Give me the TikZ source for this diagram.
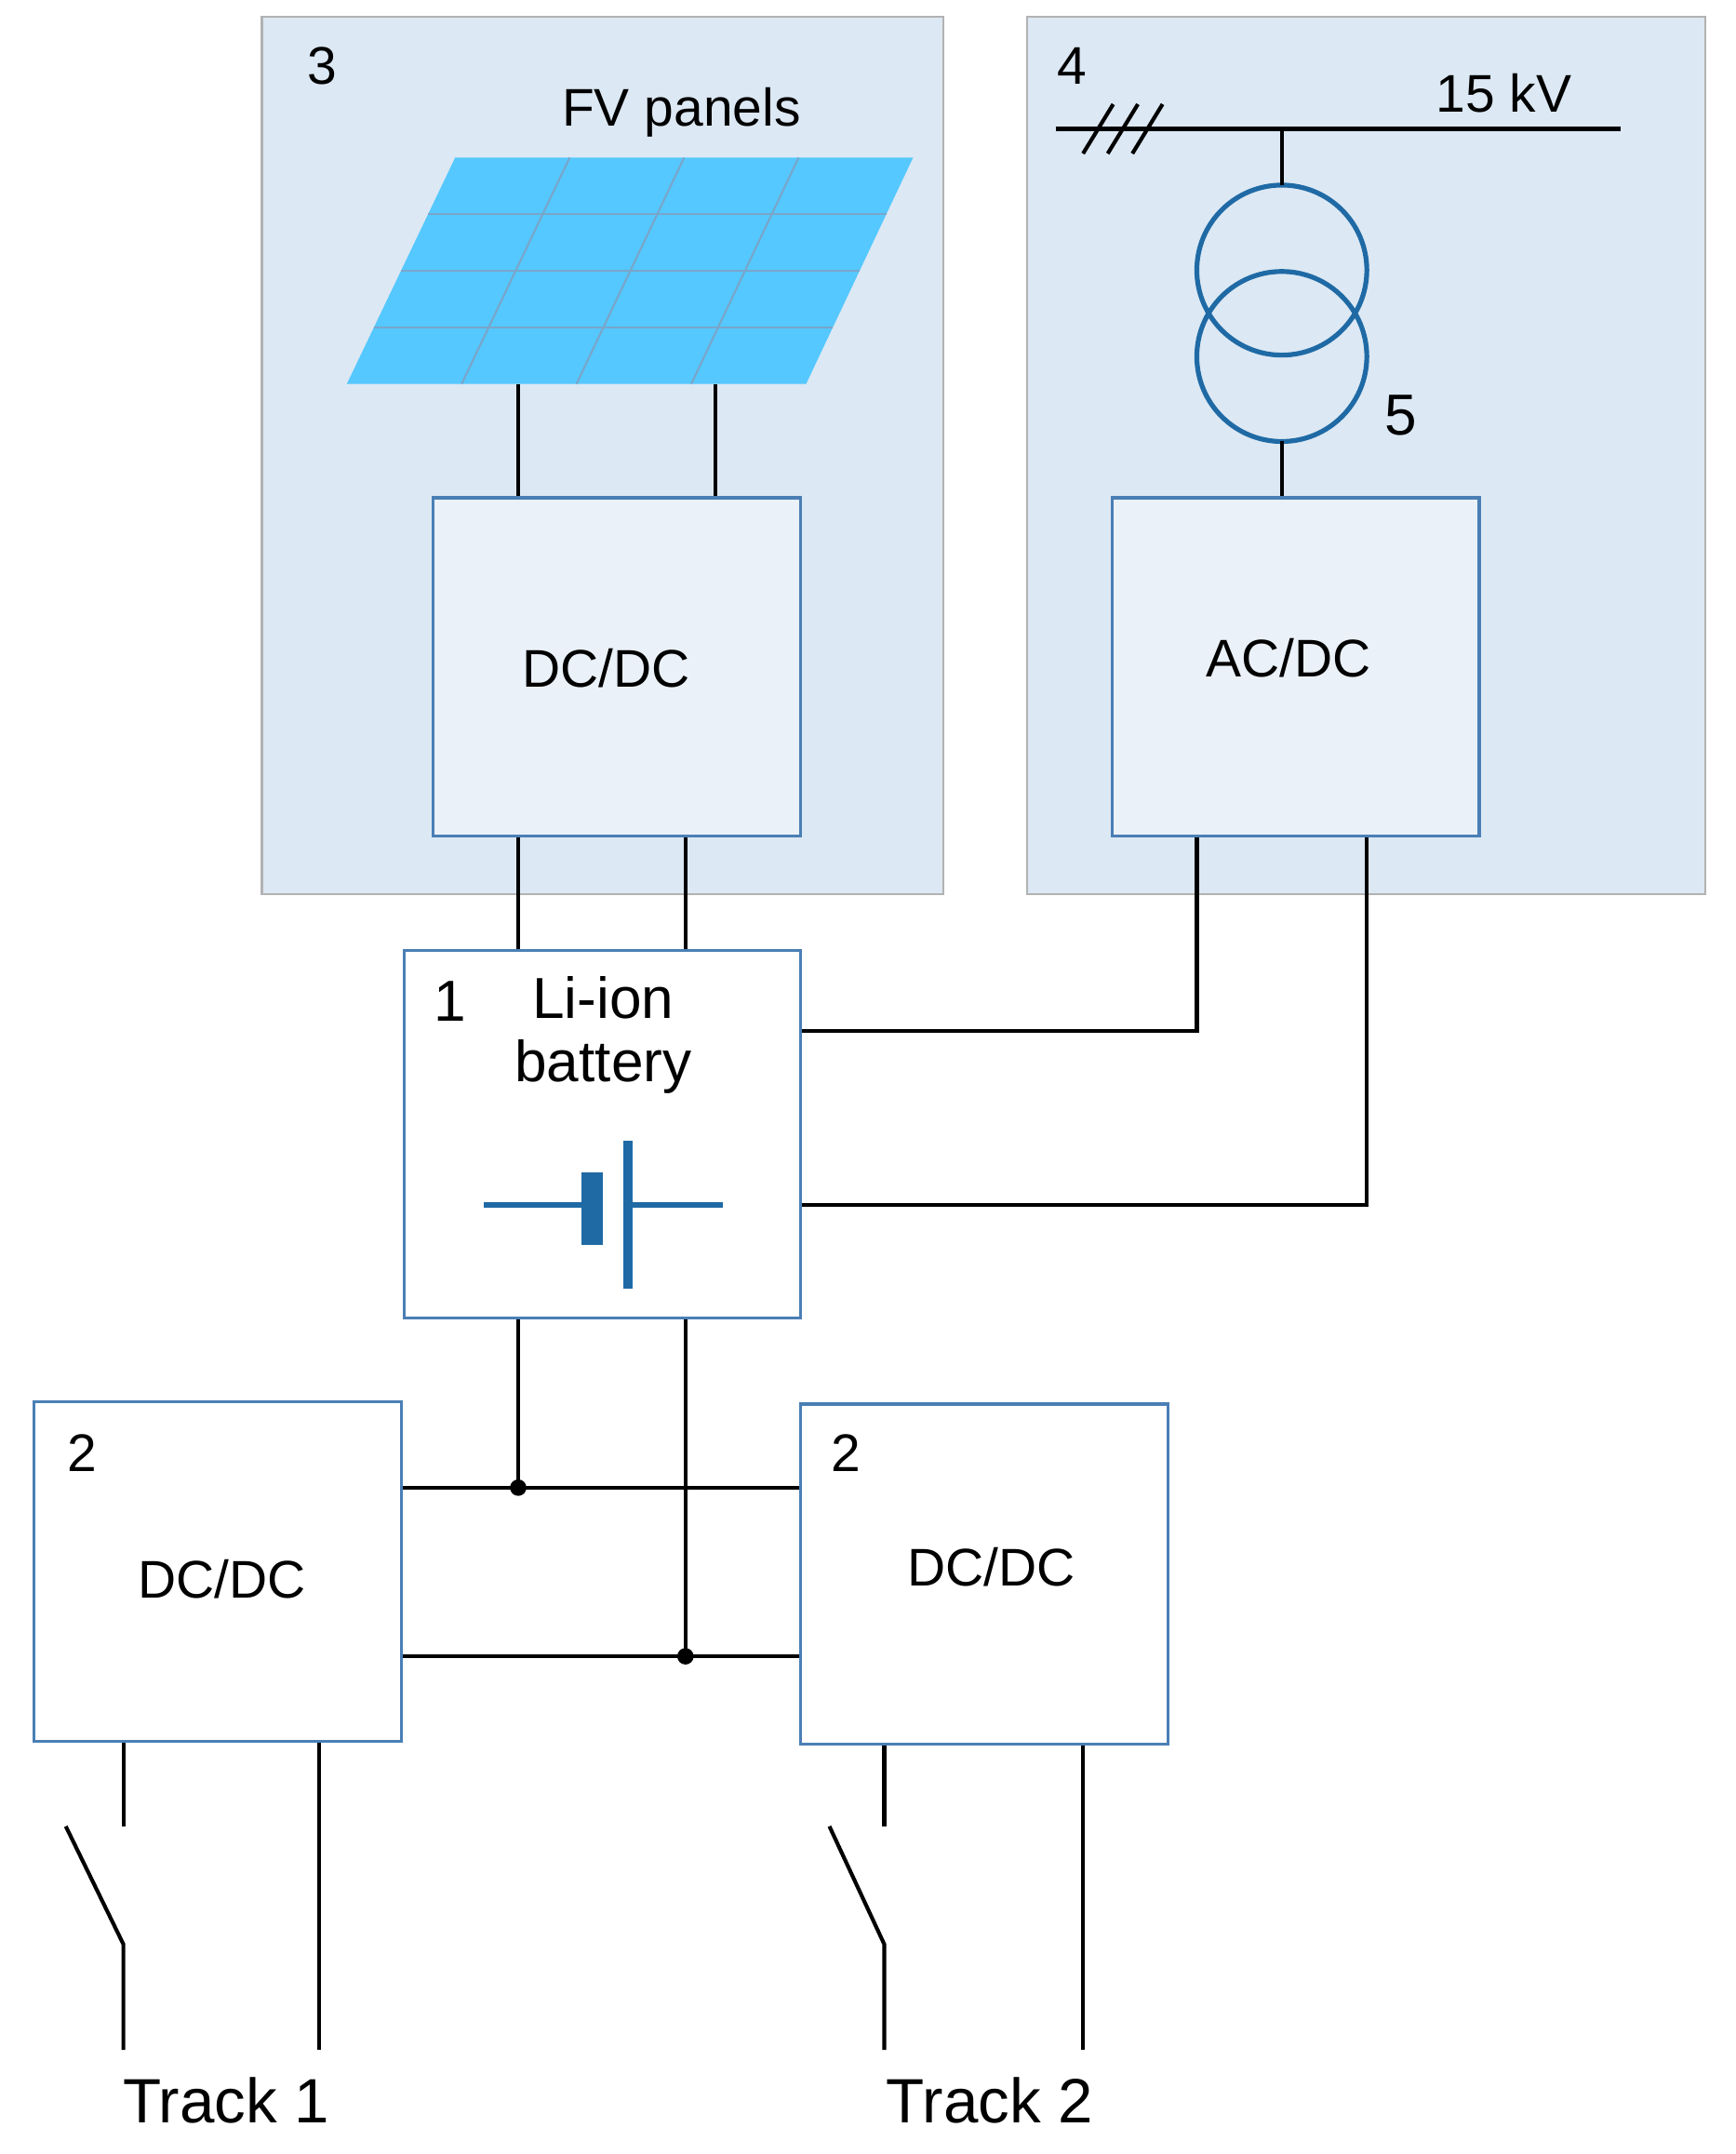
\documentclass[tikz,border=0pt]{standalone}
\usepackage{fontspec}
\setmainfont{Liberation Sans}
\begin{document}
\begin{tikzpicture}[x=0.02cm,y=-0.02cm,
  area/.style={draw=black!30,fill=blue!5!cyan!6!white,fill=bgblue,line width=0.8pt,inner sep=0},
  box/.style={draw=boxblue,line width=1.2pt,inner sep=0},
  wire/.style={line width=1.6pt,black},
  lbl/.style={font=\fontsize{22}{24}\selectfont,inner sep=0},
  sym/.style={line width=2.4pt,symblue}]
\definecolor{bgblue}{HTML}{DCE8F3}
\definecolor{boxblue}{HTML}{4A7FB5}
\definecolor{symblue}{HTML}{1F6AA5}
\definecolor{pv}{HTML}{55C8FF}
\useasboundingbox (0,0) rectangle (1266,1571);
% areas
\node[area,minimum width=9.94cm,minimum height=12.8cm] (a3) at (439.5,332) {};
\node[area,minimum width=9.9cm,minimum height=12.8cm] (a4) at (996.5,332) {};
\node[lbl] (n3) at (235,48) {3};
\node[lbl] (n4) at (782,48) {4};
\node[lbl] (fv) at (497,82) {FV panels};
% PV panel
\fill[pv] (332,115) -- (666,115) -- (588,280) -- (253,280) -- cycle;
\foreach \t in {0.25,0.5,0.75}{
  \draw[symblue!60,line width=0.8pt] ({332+\t*(666-332)},115) -- ({253+\t*(588-253)},280);}
\foreach \s in {0.25,0.5,0.75}{
  \draw[symblue!60,line width=0.8pt] ({332-\s*79},{115+\s*165}) -- ({666-\s*78},{115+\s*165});}
\coordinate (pvb) at (420,280);
% boxes
\node[box,fill=bgblue!60!white,minimum width=5.36cm,minimum height=4.94cm] (dc3) at (450,486.5) {};
\node[lbl] at (442,487) {DC/DC};
\node[box,fill=bgblue!60!white,minimum width=5.36cm,minimum height=4.94cm] (acdc) at (945,486.5) {};
\node[lbl] at (940,480) {AC/DC};
\node[box,fill=white,minimum width=5.78cm,minimum height=5.36cm] (bat) at (439.5,827) {};
\node[lbl,font=\fontsize{24}{26}\selectfont] at (328,730) {1};
\node[lbl,font=\fontsize{24}{26}\selectfont,align=center] at (440,755) {Li-ion\\battery};
\node[box,fill=white,minimum width=5.36cm,minimum height=4.96cm] (dcL) at (159,1146) {};
\node[lbl] at (60,1060) {2};
\node[lbl] at (162,1152) {DC/DC};
\node[box,fill=white,minimum width=5.36cm,minimum height=4.96cm] (dcR) at (718,1148) {};
\node[lbl] at (617,1060) {2};
\node[lbl] at (723,1143) {DC/DC};
% battery symbol
\draw[sym] (353,879) -- (425,879);
\draw[symblue,line width=9pt] (432,855) -- (432,908);
\draw[sym,line width=4pt] (458,832) -- (458,940);
\draw[sym] (458,879) -- (527,879);
% PV to DC/DC
\draw[wire] (378,280) -- (378,0 |- dc3.north);
\draw[wire] (522,280) -- (522,0 |- dc3.north);
\draw[wire] (378,0 |- dc3.south) -- (378,0 |- bat.north);
\draw[wire] (500,0 |- dc3.south) -- (500,0 |- bat.north);
% grid
\coordinate (bus1) at (770,94);
\coordinate (bus2) at (1182,94);
\draw[wire] (bus1) -- (bus2);
\foreach \x in {800,818,836}{\draw[wire] (\x-10,112) -- (\x+12,76);}
\node[lbl] at (1097,68) {15 kV};
\draw[symblue,line width=2pt] (935,197) circle (62) (935,260) circle (62);
\draw[wire] (935,94) -- (935,135);
\draw[wire] (935,322) -- (935,0 |- acdc.north);
\node[lbl,font=\fontsize{24}{26}\selectfont] at (1022,303) {5};
% AC/DC to battery
\draw[wire] (873,0 |- acdc.south) -- (873,752) -- (bat.east |- 0,752);
\draw[wire] (997,0 |- acdc.south) -- (997,879) -- (bat.east |- 0,879);
% battery to DC/DCs
\draw[wire] (378,0 |- bat.south) -- (378,1085);
\draw[wire] (500,0 |- bat.south) -- (500,1208);
\draw[wire] (dcL.east |- 0,1085) -- (dcR.west |- 0,1085);
\draw[wire] (dcL.east |- 0,1208) -- (dcR.west |- 0,1208);
\fill (378,1085) circle (6) (500,1208) circle (6);
% tracks
\draw[wire] (90,0 |- dcL.south) -- (90,1332);
\draw[wire] (48,1332) -- (90,1418) -- (90,1495);
\draw[wire] (233,0 |- dcL.south) -- (233,1495);
\draw[wire] (645,0 |- dcR.south) -- (645,1332);
\draw[wire] (605,1332) -- (645,1418) -- (645,1495);
\draw[wire] (790,0 |- dcR.south) -- (790,1495);
\node[lbl,font=\fontsize{26}{28}\selectfont] at (165,1532) {Track 1};
\node[lbl,font=\fontsize{26}{28}\selectfont] at (722,1532) {Track 2};
\end{tikzpicture}
\end{document}
